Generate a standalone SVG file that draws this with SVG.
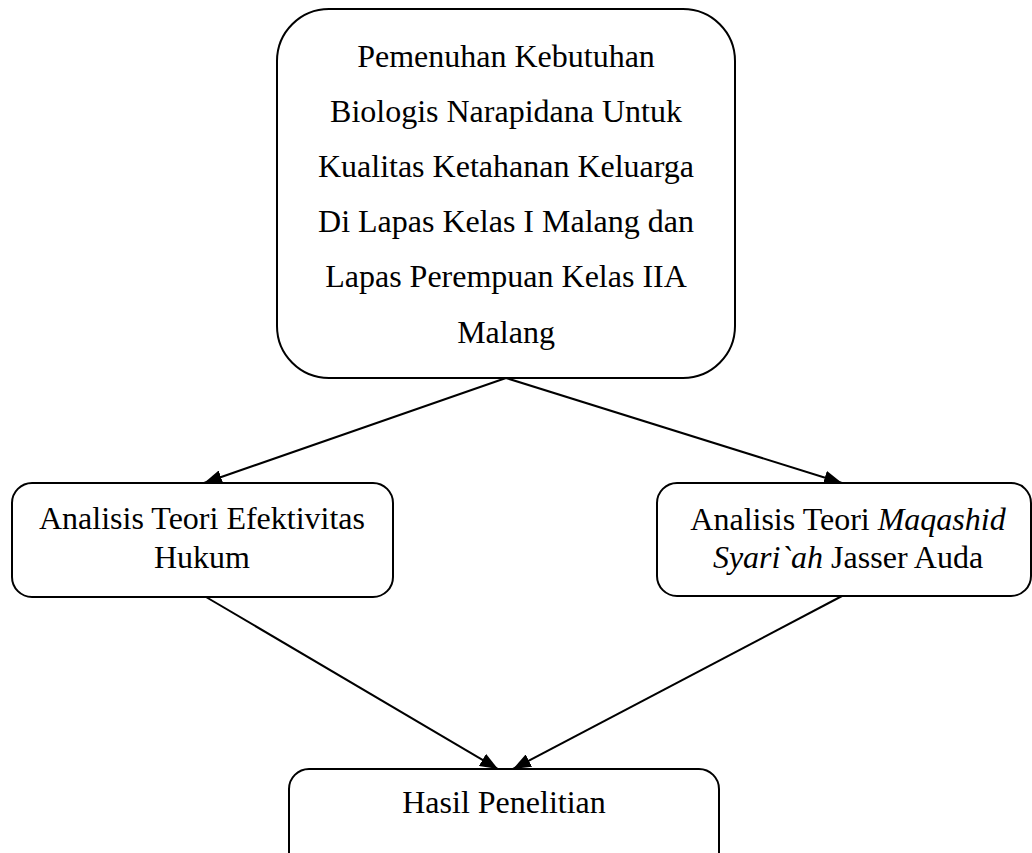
<svg xmlns="http://www.w3.org/2000/svg" width="1032" height="853" viewBox="0 0 1032 853">
<style>
.box{fill:#fff;stroke:#000;stroke-width:2}
.t{font-family:"Liberation Serif","Times New Roman",serif;font-size:32px;fill:#000;text-anchor:middle}
.c{stroke:#000;stroke-width:2;fill:none;marker-end:url(#ah)}
</style>
<defs>
<marker id="ah" viewBox="0 0 18 14" refX="18" refY="7" markerWidth="18" markerHeight="14" markerUnits="userSpaceOnUse" orient="auto">
<path d="M0,0 L18,7 L0,14 Z" fill="#000"/>
</marker>
</defs>
<rect width="1032" height="853" fill="#fff"/>
<g id="connectors">
<line class="c" x1="506" y1="378" x2="204" y2="483"/>
<line class="c" x1="506" y1="378" x2="842" y2="483"/>
<line class="c" x1="206" y1="597" x2="498" y2="769"/>
<line class="c" x1="842" y1="596" x2="513" y2="769"/>
</g>
<g id="node-top">
<rect class="box" x="277" y="9" width="458" height="369" rx="52" ry="52"/>
<text class="t" x="506" y="67">Pemenuhan Kebutuhan</text>
<text class="t" x="506" y="122">Biologis Narapidana Untuk</text>
<text class="t" x="506" y="177">Kualitas Ketahanan Keluarga</text>
<text class="t" x="506" y="232">Di Lapas Kelas I Malang dan</text>
<text class="t" x="506" y="287">Lapas Perempuan Kelas IIA</text>
<text class="t" x="506" y="343">Malang</text>
</g>
<g id="node-left">
<rect class="box" x="12" y="483" width="381" height="114" rx="20" ry="20"/>
<text class="t" x="202" y="529">Analisis Teori Efektivitas</text>
<text class="t" x="202" y="568">Hukum</text>
</g>
<g id="node-right">
<rect class="box" x="657" y="483" width="374" height="113" rx="20" ry="20"/>
<text class="t" x="848" y="530">Analisis Teori <tspan font-style="italic">Maqashid</tspan></text>
<text class="t" x="848" y="568"><tspan font-style="italic">Syari`ah</tspan> Jasser Auda</text>
</g>
<g id="node-bottom">
<rect class="box" x="289" y="769" width="430" height="110" rx="20" ry="20"/>
<text class="t" x="504" y="813">Hasil Penelitian</text>
</g>
</svg>
